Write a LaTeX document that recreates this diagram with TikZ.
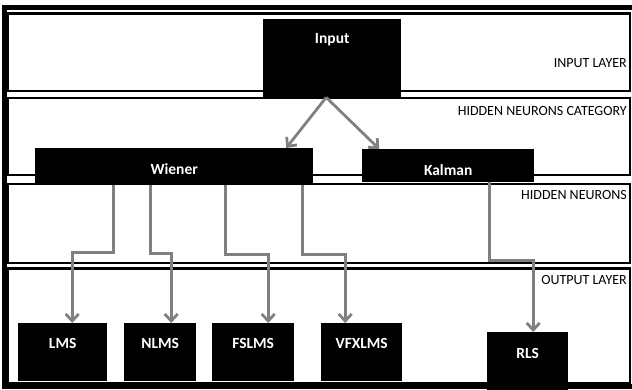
\documentclass[tikz,border=0pt]{standalone}
\usepackage{fontspec}
\setmainfont{Carlito}
\usetikzlibrary{arrows.meta,calc}
\begin{document}
\begin{tikzpicture}[x=1pt,y=1pt,
  band/.style={draw=black,line width=2.6pt},
  blk/.style={fill=black,draw=none,inner sep=0pt,anchor=north west},
  btxt/.style={text=white,font=\bfseries\fontsize{15.5}{17}\selectfont,inner sep=0pt},
  lbl/.style={font=\fontsize{14}{16}\selectfont,inner sep=0pt,anchor=east},
  conn/.style={draw=gray,line width=2.8pt,-{Straight Barb[length=7pt,width=13pt]}}
]
\useasboundingbox (0,0) rectangle (632,-390);
\clip (0,0) rectangle (632,-390);
% outer frame
\draw[line width=4.5pt] (4.5,-7.5) rectangle (645,-386.5);
% bands
\draw[band] (8,-13.5) rectangle (630,-91);
\draw[band] (8,-98) rectangle (630,-175);
\draw[band] (8,-184) rectangle (630,-263);
\draw[band] (8,-268.5) rectangle (630,-383);
% layer labels
\node[lbl] (l1) at (627,-63) {INPUT LAYER};
\node[lbl] (l2) at (627,-111) {HIDDEN NEURONS CATEGORY};
\node[lbl] (l3) at (627,-195) {HIDDEN NEURONS};
\node[lbl] (l4) at (627,-280) {OUTPUT LAYER};
% boxes
\node[blk,minimum width=138pt,minimum height=79pt] (input) at (263,-19) {};
\node[blk,minimum width=278pt,minimum height=37pt] (wiener) at (35,-148) {};
\node[blk,minimum width=172pt,minimum height=33pt] (kalman) at (362,-149) {};
\node[blk,minimum width=89pt,minimum height=58pt] (lms) at (18,-323) {};
\node[blk,minimum width=72pt,minimum height=58pt] (nlms) at (124,-323) {};
\node[blk,minimum width=82pt,minimum height=58pt] (fslms) at (212,-323) {};
\node[blk,minimum width=81pt,minimum height=58pt] (vfxlms) at (321,-323) {};
\node[blk,minimum width=81pt,minimum height=70pt] (rls) at (487,-332) {};
% box texts
\path (input.north) ++(0,-21) node[btxt] (tinput) {Input};
\node[btxt] (twiener) at ([yshift=-2pt]wiener.center) {Wiener};
\node[btxt] (tkalman) at ([yshift=-4.5pt]kalman.center) {Kalman};
\node[btxt] (tlms) at ([yshift=9pt]lms.center) {LMS};
\node[btxt] (tnlms) at ([yshift=9pt]nlms.center) {NLMS};
\node[btxt] (tfslms) at ([yshift=9pt]fslms.center) {FSLMS};
\node[btxt] (tvfxlms) at ([yshift=9pt]vfxlms.center) {VFXLMS};
\path (rls.north) ++(0,-21) node[btxt] (trls) {RLS};
% connectors
\draw[conn] ([xshift=-6pt,yshift=1pt]input.south) -- ([xshift=112pt]wiener.north);
\draw[conn] ([xshift=-6pt,yshift=1pt]input.south) -- ([xshift=-69pt]kalman.north);
\draw[conn] ([xshift=-61pt]wiener.south) -- ++(0,-67) -| ([xshift=9.5pt]lms.north);
\draw[conn] ([xshift=-24pt]wiener.south) -- ++(0,-68) -| ([xshift=11pt]nlms.north);
\draw[conn] ([xshift=51pt]wiener.south) -- ++(0,-69) -| ([xshift=15pt]fslms.north);
\draw[conn] ([xshift=128pt]wiener.south) -- ++(0,-69) -| ([xshift=-16.5pt]vfxlms.north);
\draw[conn] ([xshift=41pt]kalman.south) -- ++(0,-78) -| ([xshift=5.5pt]rls.north);
\end{tikzpicture}
\end{document}
